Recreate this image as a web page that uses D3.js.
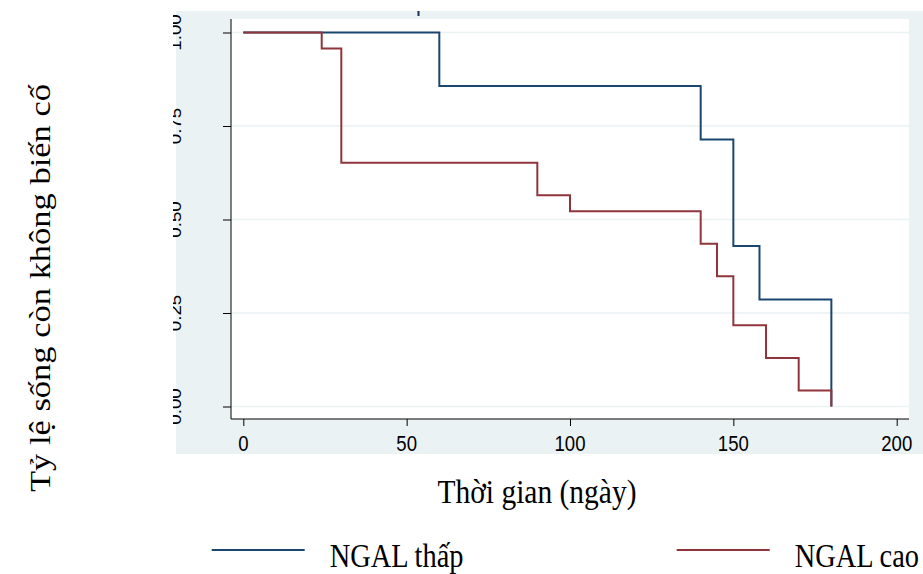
<!DOCTYPE html>
<html>
<head>
<meta charset="utf-8">
<script src="https://cdn.jsdelivr.net/npm/d3@7"></script>
<style>
  body { margin: 0; background: #ffffff; }
  svg { display: block; }
</style>
</head>
<body>
<svg id="Diagram"></svg>
<script>
// Kaplan-Meier steps
var groups = ["NGAL thấp", "NGAL cao"];
var timeLow = [0, 60, 140, 150, 158, 180];
var survLow = [1.00, 0.857, 0.714, 0.429, 0.286, 0.00];
var timeHigh = [0, 24, 30, 90, 100, 140, 145, 150, 160, 170, 180];
var survHigh = [1.00, 0.957, 0.652, 0.565, 0.522, 0.435, 0.348, 0.217, 0.130, 0.043, 0.00];
var xTicks = [0, 50, 100, 150, 200];
var yTicks = [0, 0.25, 0.5, 0.75, 1];
var colors = ["#1a476f", "#90353b"];

var width = 923, height = 574;
var stretch = 1.15; // the picture is a bit taller than it should be

var svg = d3.select("#Diagram")
    .attr("width", width)
    .attr("height", height);

// outer graph region and plot region
svg.append("rect")
    .attr("x", 176).attr("y", 11)
    .attr("width", 747).attr("height", 443)
    .attr("fill", "#eaf2f3");
svg.append("rect")
    .attr("x", 231).attr("y", 19)
    .attr("width", 678).attr("height", 400)
    .attr("fill", "#ffffff");
// little leftover mark at the top
svg.append("rect")
    .attr("x", 417.5).attr("y", 11)
    .attr("width", 2).attr("height", 5)
    .attr("fill", "#1a2f5a");

var x = d3.scaleLinear().domain([0, 200]).range([243.3, 896.7]);
var y = d3.scaleLinear().domain([0, 1]).range([406.5, 32.5]);

// grid lines
svg.append("g")
    .selectAll("line")
    .data(yTicks)
    .enter()
    .append("line")
    .attr("x1", 231).attr("x2", 909)
    .attr("y1", function (d) { return y(d); })
    .attr("y2", function (d) { return y(d); })
    .attr("stroke", "#eaf2f3")
    .attr("stroke-width", 1.5);

// Y axis
var yAxis = svg.append("g")
    .attr("transform", "translate(231,0)")
    .call(d3.axisLeft(y).tickValues(yTicks).tickSize(8).tickFormat(""));
yAxis.select(".domain").attr("d", "M0,19V419");

// y tick labels, rotated and cut on the left like in the picture
svg.append("clipPath").attr("id", "ycut")
    .append("rect").attr("x", 173).attr("y", 0).attr("width", 60).attr("height", 460);
svg.append("g")
    .attr("clip-path", "url(#ycut)")
    .selectAll("text")
    .data(yTicks)
    .enter()
    .append("text")
    .attr("transform", function (d) { return "translate(181," + y(d) + ") rotate(-90) scale(1.1,1)"; })
    .attr("text-anchor", "middle")
    .style("font-family", "Liberation Sans, Arial, sans-serif")
    .style("font-size", "17px")
    .text(function (d) { return d3.format(".2f")(d); });

// X axis
var xAxis = svg.append("g")
    .attr("transform", "translate(0,419)")
    .call(d3.axisBottom(x).tickValues(xTicks).tickSize(7).tickFormat(""));
xAxis.select(".domain").attr("d", "M231,0H909");

svg.append("g")
    .selectAll("text")
    .data(xTicks)
    .enter()
    .append("text")
    .attr("transform", function (d) { return "translate(" + x(d) + ",451) scale(1," + stretch + ")"; })
    .attr("text-anchor", "middle")
    .style("font-family", "Liberation Sans, Arial, sans-serif")
    .style("font-size", "18.6px")
    .text(function (d) { return d; });

// survival curves
var line = d3.line()
    .x(function (d) { return x(d[0]); })
    .y(function (d) { return y(d[1]); })
    .curve(d3.curveStepAfter);

var series = [d3.zip(timeLow, survLow), d3.zip(timeHigh, survHigh)];
svg.append("g")
    .selectAll("path")
    .data(series)
    .enter()
    .append("path")
    .attr("d", line)
    .attr("fill", "none")
    .attr("stroke", function (d, i) { return colors[i]; })
    .attr("stroke-width", 2);

// axis titles
svg.append("text")
    .attr("transform", "translate(50,288) rotate(-90) scale(" + stretch + ",1)")
    .attr("text-anchor", "middle")
    .style("font-family", "Liberation Serif, Times New Roman, serif")
    .style("font-size", "30px")
    .text("Tỷ lệ sống còn không biến cố");

svg.append("text")
    .attr("transform", "translate(537,503) scale(1," + stretch + ")")
    .attr("text-anchor", "middle")
    .style("font-family", "Liberation Serif, Times New Roman, serif")
    .style("font-size", "29.5px")
    .text("Thời gian (ngày)");

// legend
var legendX = [211.7, 676.7];
var legend = svg.append("g")
    .selectAll("g")
    .data(groups)
    .enter()
    .append("g")
    .attr("transform", function (d, i) { return "translate(" + legendX[i] + ",550)"; });
legend.append("line")
    .attr("x1", 0).attr("x2", 93)
    .attr("stroke", function (d, i) { return colors[i]; })
    .attr("stroke-width", 2);
legend.append("text")
    .attr("transform", "translate(118,17) scale(1," + stretch + ")")
    .style("font-family", "Liberation Serif, Times New Roman, serif")
    .style("font-size", "28.4px")
    .text(function (d) { return d; });
</script>
</body>
</html>
